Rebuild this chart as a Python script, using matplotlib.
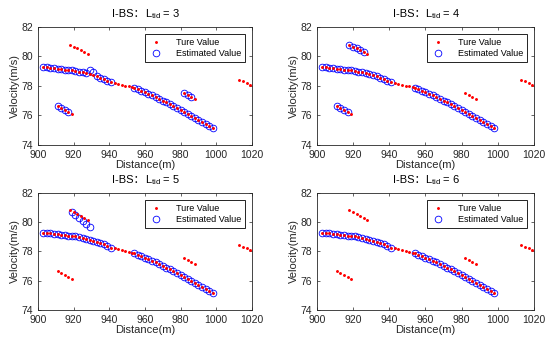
import numpy as np
import matplotlib.pyplot as plt

plt.rcParams['font.family'] = ['Liberation Sans', 'Noto Sans CJK SC']
plt.rcParams['mathtext.fontset'] = 'custom'
plt.rcParams['mathtext.rm'] = 'Liberation Sans'
plt.rcParams['mathtext.it'] = 'Liberation Sans:italic'

# true values (red dots), grouped by segment
x_up = [903, 905, 907, 909, 911, 913, 915, 917, 919, 921,
        923, 925, 927, 929, 931, 933, 935, 937, 939, 941]
v_up = [79.28, 79.26, 79.23, 79.20, 79.17, 79.14, 79.11, 79.08, 79.05, 79.02,
        78.97, 78.92, 78.86, 78.80, 78.73, 78.65, 78.56, 78.47, 78.36, 78.25]
x_gap = [943, 945, 947, 949, 951, 953]
v_gap = [78.20, 78.14, 78.08, 78.02, 77.96, 77.90]
x_low = [954, 956, 958, 960, 962, 964, 966, 968, 970, 972, 974, 976,
         978, 980, 982, 984, 986, 988, 990, 992, 994, 996, 998]
v_low = [77.88, 77.78, 77.68, 77.57, 77.46, 77.35, 77.24, 77.12, 77.00, 76.88, 76.76, 76.63,
         76.50, 76.37, 76.24, 76.10, 75.96, 75.82, 75.68, 75.54, 75.40, 75.26, 75.12]
x_top = [918, 920, 922, 924, 926, 928]
v_top = [80.80, 80.67, 80.54, 80.41, 80.28, 80.15]
x_bot = [911, 913, 915, 917, 919]
v_bot = [76.65, 76.52, 76.38, 76.24, 76.10]
x_mid = [982, 984, 986, 988]
v_mid = [77.52, 77.40, 77.27, 77.14]
x_end = [1013, 1015, 1017, 1019]
v_end = [78.42, 78.32, 78.20, 78.08]

# estimated values (blue circles) per panel
est_x3 = x_up[:13] + [929, 931] + x_up[15:] + x_low + x_bot[:4] + x_mid[:3]
est_v3 = v_up[:13] + [79.08, 78.95] + v_up[15:] + v_low + v_bot[:4] + v_mid[:3]
est_x4 = x_up + x_low + x_top[:5] + x_bot[:4]
est_v4 = v_up + v_low + v_top[:5] + v_bot[:4]
top5_x = [919, 921, 923, 925, 927, 929]
top5_v = [80.72, 80.50, 80.30, 80.10, 79.88, 79.65]
est_x5 = x_up + x_low + top5_x
est_v5 = v_up + v_low + top5_v
est_x6 = x_up + x_low
est_v6 = v_up + v_low

true_x = x_up + x_gap + x_low + x_top + x_bot + x_mid + x_end
true_v = v_up + v_gap + v_low + v_top + v_bot + v_mid + v_end

panels = [
    (3, est_x3, est_v3, [0.069, 0.580, 0.389, 0.342]),
    (4, est_x4, est_v4, [0.576, 0.580, 0.395, 0.342]),
    (5, est_x5, est_v5, [0.069, 0.102, 0.389, 0.339]),
    (6, est_x6, est_v6, [0.576, 0.102, 0.395, 0.339]),
]

fig = plt.figure(figsize=(5.5, 3.45), dpi=100)
txt = '#262626'

for L, ex, ev, pos in panels:
    ax = fig.add_axes(pos)
    ax.plot(true_x, true_v, '.', color='red', markersize=2.2, label='Ture Value', zorder=3)
    ax.plot(ex, ev, 'o', markerfacecolor='none', markeredgecolor='blue',
            markeredgewidth=0.6, markersize=4.8, label='Estimated Value', zorder=2)
    ax.set_xlim(900, 1020)
    ax.set_ylim(74, 82)
    ax.set_xticks([900, 920, 940, 960, 980, 1000, 1020])
    ax.set_yticks([74, 76, 78, 80, 82])
    ax.tick_params(direction='in', top=True, right=True, labelsize=7.5,
                   colors=txt, length=2.5, width=0.5)
    for s in ax.spines.values():
        s.set_linewidth(0.6)
        s.set_color(txt)
    ax.set_xlabel('Distance(m)', fontsize=8, color=txt, labelpad=0)
    ax.set_ylabel('Velocity(m/s)', fontsize=8, color=txt, labelpad=1)
    # title in two pieces on one baseline so the full-width colon gets a CJK font
    ax.text(0.5, 1.08, 'I-BS：', transform=ax.transAxes, fontsize=8,
            ha='right', va='baseline')
    ax.text(0.5, 1.08, '$\\mathrm{L_{tid}}$ = %d' % L, transform=ax.transAxes,
            fontsize=8, ha='left', va='baseline')
    leg = ax.legend(loc='upper right', fontsize=6.5, fancybox=False, framealpha=1,
                    edgecolor='black', borderpad=0.4, handletextpad=1.5,
                    labelspacing=0.3, handlelength=1.5, borderaxespad=0.8)
    leg.get_frame().set_linewidth(0.6)

fig.savefig('out.png', dpi=100)
